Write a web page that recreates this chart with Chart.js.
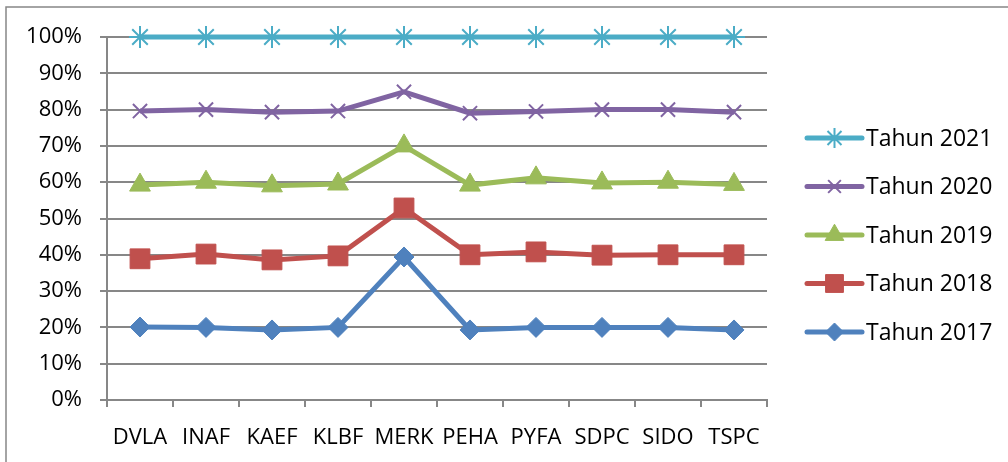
<!DOCTYPE html>
<html lang="id">
<head>
<meta charset="UTF-8">
<title>Tahun 2017 - 2021</title>
<script src="https://cdn.jsdelivr.net/npm/chart.js"></script>
<style>
    html, body { margin: 0; padding: 0; background: #fff; }
    .wrap { width: 1008px; height: 462px; position: relative; }
</style>
</head>
<body>
<div class="wrap"><canvas id="chart" width="1008" height="462"></canvas></div>
<script>
const companies = ['DVLA', 'INAF', 'KAEF', 'KLBF', 'MERK', 'PEHA', 'PYFA', 'SDPC', 'SIDO', 'TSPC'];

const tahun2017 = [20.1, 20.0, 19.3, 20.0, 39.4, 19.3, 20.0, 20.0, 20.0, 19.3];
const tahun2018 = [38.9, 40.2, 38.6, 39.7, 52.9, 40.0, 40.8, 39.9, 40.0, 40.0];
const tahun2019 = [59.2, 60.0, 59.0, 59.5, 70.0, 59.2, 61.2, 59.8, 60.0, 59.4];
const tahun2020 = [79.6, 80.0, 79.3, 79.6, 84.9, 79.0, 79.5, 80.0, 80.0, 79.3];
const tahun2021 = [100, 100, 100, 100, 100, 100, 100, 100, 100, 100];

const seriesNames = ['Tahun 2017', 'Tahun 2018', 'Tahun 2019', 'Tahun 2020', 'Tahun 2021'];
const yTicks = [0, 10, 20, 30, 40, 50, 60, 70, 80, 90, 100];

const gridColor = '#878787';
const fontFamily = '"Open Sans", "Liberation Sans", sans-serif';

const styles = [
    { color: '#4F81BD', pointStyle: 'rectRot', radius: 10, borderWidth: 1 },
    { color: '#C0504D', pointStyle: 'rect', radius: 14, borderWidth: 1 },
    { color: '#9BBB59', pointStyle: 'triangle', radius: 12, borderWidth: 1 },
    { color: '#8064A2', pointStyle: 'crossRot', radius: 10, borderWidth: 2 },
    { color: '#4BACC6', pointStyle: 'star', radius: 11, borderWidth: 2 }
];

const values = [tahun2017, tahun2018, tahun2019, tahun2020, tahun2021];

const datasets = values.map((data, i) => ({
    label: seriesNames[i],
    data: data,
    borderColor: styles[i].color,
    backgroundColor: styles[i].color,
    borderWidth: 5,
    pointStyle: styles[i].pointStyle,
    pointRadius: styles[i].radius,
    pointHoverRadius: styles[i].radius,
    pointBorderWidth: styles[i].borderWidth,
    pointBackgroundColor: styles[i].color,
    pointBorderColor: styles[i].color,
    tension: 0,
    fill: false,
    clip: false
}));

// frame on the top and left edge + right-hand legend (line with marker)
const frameAndLegend = {
    id: 'frameAndLegend',
    beforeDraw(chart) {
        const ctx = chart.ctx;
        ctx.save();
        ctx.strokeStyle = gridColor;
        ctx.lineWidth = 1.5;
        ctx.beginPath();
        ctx.moveTo(6, chart.height);
        ctx.lineTo(6, 7);
        ctx.lineTo(chart.width, 7);
        ctx.stroke();
        ctx.restore();
    },
    afterDraw(chart) {
        const ctx = chart.ctx;
        const area = chart.chartArea;
        const x0 = area.right + 40;
        const lineLen = 55;
        const step = 48.5;
        const yMid = 235;
        ctx.save();
        ctx.font = '23px ' + fontFamily;
        ctx.textBaseline = 'middle';
        ctx.fillStyle = '#000';
        const n = styles.length;
        for (let k = 0; k < n; k++) {
            const i = n - 1 - k;
            const y = yMid + (k - (n - 1) / 2) * step;
            const s = styles[i];
            ctx.strokeStyle = s.color;
            ctx.lineWidth = 5;
            ctx.lineCap = 'round';
            ctx.beginPath();
            ctx.moveTo(x0, y);
            ctx.lineTo(x0 + lineLen, y);
            ctx.stroke();
            ctx.lineCap = 'butt';
            ctx.fillStyle = s.color;
            ctx.lineWidth = s.borderWidth;
            Chart.helpers.drawPoint(ctx, {
                pointStyle: s.pointStyle,
                radius: s.radius * 0.9,
                borderWidth: s.borderWidth,
                rotation: 0
            }, x0 + lineLen / 2, y);
            ctx.fillStyle = '#000';
            ctx.fillText(seriesNames[i], x0 + lineLen + 4, y + 1);
        }
        ctx.restore();
    }
};

new Chart(document.getElementById('chart').getContext('2d'), {
    type: 'line',
    data: { labels: companies, datasets: datasets },
    options: {
        responsive: false,
        animation: false,
        layout: { padding: { top: 37, right: 241, left: 0, bottom: 0 } },
        plugins: {
            legend: { display: false },
            tooltip: { enabled: false }
        },
        scales: {
            x: {
                offset: true,
                grid: {
                    offset: true,
                    drawOnChartArea: false,
                    drawTicks: true,
                    tickLength: 7,
                    color: gridColor,
                    lineWidth: 2
                },
                border: { display: true, color: gridColor, width: 2 },
                ticks: {
                    color: '#000',
                    font: { family: fontFamily, size: 22 },
                    padding: 18,
                    maxRotation: 0,
                    autoSkip: false
                },
                afterFit(scale) { scale.height = 62; }
            },
            y: {
                min: 0,
                max: 100,
                afterBuildTicks(scale) { scale.ticks = yTicks.map(v => ({ value: v })); },
                grid: {
                    color: gridColor,
                    lineWidth: 2,
                    drawTicks: true,
                    tickLength: 7
                },
                border: { display: true, color: gridColor, width: 2 },
                ticks: {
                    color: '#000',
                    font: { family: fontFamily, size: 22 },
                    padding: 18,
                    callback: v => v + '%'
                },
                afterFit(scale) { scale.width = 107; }
            }
        }
    },
    plugins: [frameAndLegend]
});
</script>
</body>
</html>
